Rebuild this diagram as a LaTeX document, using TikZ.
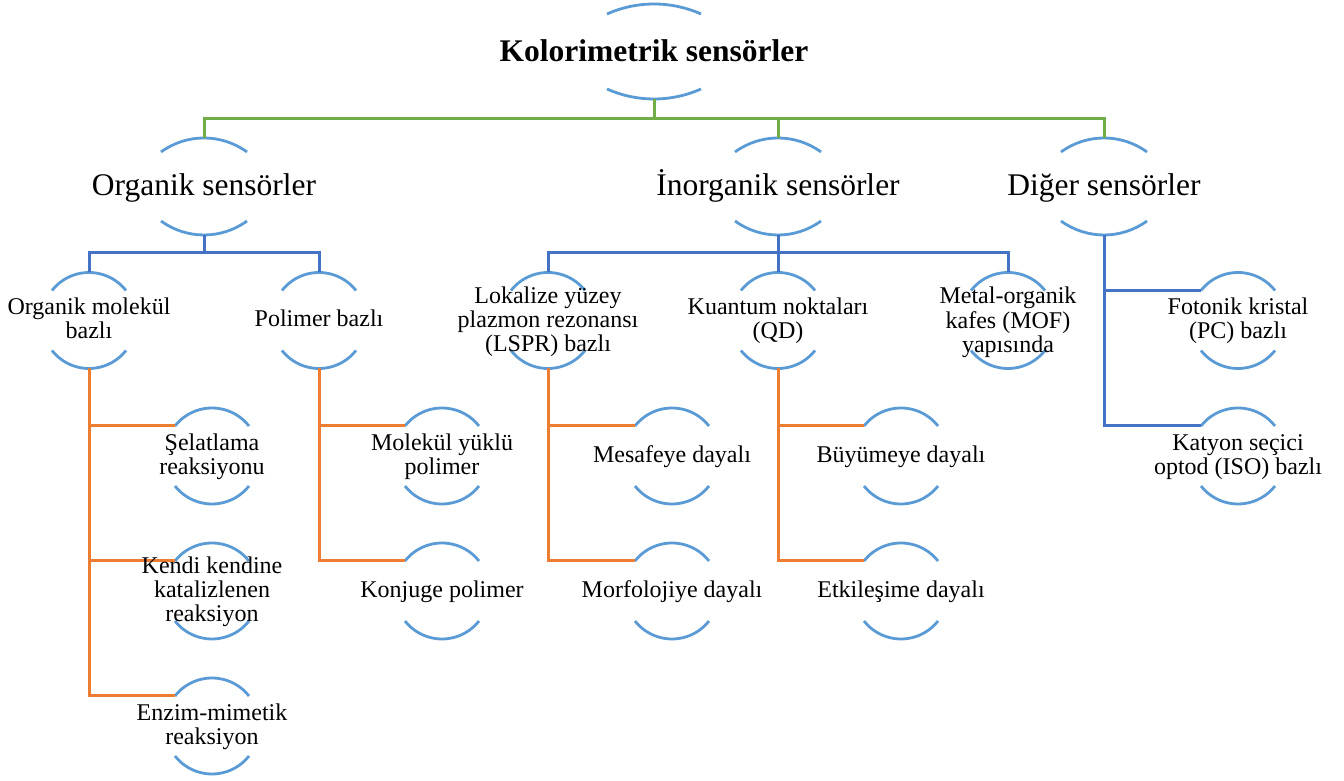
\documentclass[tikz,border=0pt]{standalone}
\usepackage{fontspec}
\setmainfont{Liberation Serif}
\definecolor{arcblue}{HTML}{5B9BD5}
\definecolor{lgreen}{HTML}{70AD47}
\definecolor{lblue}{HTML}{4472C4}
\definecolor{lorange}{HTML}{ED7D31}
\newcommand\ml[1]{\begin{tabular}[t]{@{}c@{}}#1\end{tabular}}
\tikzset{
  frA/.style={inner sep=0pt, outer sep=0pt, minimum width=94pt, minimum height=95pt},
  frB/.style={inner sep=0pt, outer sep=0pt, minimum width=86pt, minimum height=97pt},
  frC/.style={inner sep=0pt, outer sep=0pt, minimum width=74pt, minimum height=96pt},
  arcline/.style={draw=arcblue, line width=2.8pt},
  txtT/.style={font=\fontsize{31.5}{34}\selectfont\bfseries, inner sep=0pt, anchor=base},
  txtL/.style={font=\fontsize{31.5}{34}\selectfont, inner sep=0pt, anchor=base},
  txtS/.style={font=\fontsize{24}{24}\selectfont, inner sep=0pt, anchor=base},
  gline/.style={draw=lgreen, line width=3pt},
  bline/.style={draw=lblue, line width=3pt},
  oline/.style={draw=lorange, line width=3pt},
}
\begin{document}
\begin{tikzpicture}[x=1pt,y=1pt]
\useasboundingbox (0,0) rectangle (1344,781);
% frames
\node[frA] (title) at (654,729.5) {};
\node[frB] (org) at (204,594.5) {};
\node[frB] (inorg) at (778,594.5) {};
\node[frB] (diger) at (1104,594.5) {};
\node[frC] (omb) at (89,460.5) {};
\node[frC] (pol) at (319,460.5) {};
\node[frC] (lspr) at (548,460.5) {};
\node[frC] (qd) at (778,460.5) {};
\node[frC] (mof) at (1008,460.5) {};
\node[frC] (pc) at (1238,460.5) {};
\node[frC] (sel) at (212,325) {};
\node[frC] (kendi) at (212,190) {};
\node[frC] (enzim) at (212,55) {};
\node[frC] (myp) at (442,325) {};
\node[frC] (konj) at (442,190) {};
\node[frC] (mes) at (672,325) {};
\node[frC] (morf) at (672,190) {};
\node[frC] (buy) at (901,325) {};
\node[frC] (etk) at (901,190) {};
\node[frC] (kat) at (1238,325) {};
% arcs
\draw[arcline] ([shift={(-47pt,37.5pt)}]title.center) arc[start angle=114.02,end angle=65.98,radius=115.45pt]
               ([shift={(-47pt,-37.5pt)}]title.center) arc[start angle=245.98,end angle=294.02,radius=115.45pt];
\foreach \n in {org,inorg,diger}{
  \draw[arcline] ([shift={(-43pt,34.5pt)}]\n.center) arc[start angle=126.07,end angle=53.93,radius=73.04pt]
                 ([shift={(-43pt,-34.5pt)}]\n.center) arc[start angle=233.93,end angle=306.07,radius=73.04pt];
}
\foreach \n in {omb,pol,lspr,qd,mof,pc,sel,kendi,enzim,myp,konj,mes,morf,buy,etk,kat}{
  \draw[arcline] ([shift={(-37pt,30pt)}]\n.center) arc[start angle=141.88,end angle=38.12,radius=47.03pt]
                 ([shift={(-37pt,-30pt)}]\n.center) arc[start angle=218.12,end angle=321.88,radius=47.03pt];
}
% connectors
\draw[gline] (title.south) -- ++(0,-20) -| (org.north);
\draw[gline] (title.south) -- ++(0,-20) -| (inorg.north);
\draw[gline] (title.south) -- ++(0,-20) -| (diger.north);
\draw[bline] (org.south) -- ++(0,-18) -| (omb.north);
\draw[bline] (org.south) -- ++(0,-18) -| (pol.north);
\draw[bline] (inorg.south) -- ++(0,-18) -| (lspr.north);
\draw[bline] (inorg.south) -- ++(0,-18) -| (qd.north);
\draw[bline] (inorg.south) -- ++(0,-18) -| (mof.north);
\draw[bline] (diger.south) |- ([yshift=-18pt]pc.north west);
\draw[bline] (diger.south) |- ([yshift=-18pt]kat.north west);
\draw[oline] (omb.south) |- ([yshift=-18pt]sel.north west);
\draw[oline] (omb.south) |- ([yshift=-18pt]kendi.north west);
\draw[oline] (omb.south) |- ([yshift=-18pt]enzim.north west);
\draw[oline] (pol.south) |- ([yshift=-18pt]myp.north west);
\draw[oline] (pol.south) |- ([yshift=-18pt]konj.north west);
\draw[oline] (lspr.south) |- ([yshift=-18pt]mes.north west);
\draw[oline] (lspr.south) |- ([yshift=-18pt]morf.north west);
\draw[oline] (qd.south) |- ([yshift=-18pt]buy.north west);
\draw[oline] (qd.south) |- ([yshift=-18pt]etk.north west);
% texts
\node[txtT] (title-t) at ([yshift=-10.5pt]title.center) {Kolorimetrik sensörler};
\node[txtL] (org-t) at ([yshift=-9.5pt]org.center) {Organik sensörler};
\node[txtL] (inorg-t) at ([yshift=-9.5pt]inorg.center) {İnorganik sensörler};
\node[txtL] (diger-t) at ([yshift=-9.5pt]diger.center) {Diğer sensörler};
\node[txtS] (omb-t) at ([yshift=5.5pt]omb.center) {\ml{Organik molekül\\bazlı}};
\node[txtS] (pol-t) at ([yshift=-6.5pt]pol.center) {\ml{Polimer bazlı}};
\node[txtS] (lspr-t) at ([yshift=16.5pt]lspr.center) {\ml{Lokalize yüzey\\plazmon rezonansı\\(LSPR) bazlı}};
\node[txtS] (qd-t) at ([yshift=5.5pt]qd.center) {\ml{Kuantum noktaları\\(QD)}};
\node[txtS] (mof-t) at ([yshift=16.5pt]mof.center) {\ml{Metal-organik\\kafes (MOF)\\yapısında}};
\node[txtS] (pc-t) at ([yshift=5.5pt]pc.center) {\ml{Fotonik kristal\\(PC) bazlı}};
\node[txtS] (sel-t) at ([yshift=5.5pt]sel.center) {\ml{Şelatlama\\reaksiyonu}};
\node[txtS] (kendi-t) at ([yshift=17.5pt]kendi.center) {\ml{Kendi kendine\\katalizlenen\\reaksiyon}};
\node[txtS] (enzim-t) at ([yshift=5.5pt]enzim.center) {\ml{Enzim-mimetik\\reaksiyon}};
\node[txtS] (myp-t) at ([yshift=5.5pt]myp.center) {\ml{Molekül yüklü\\polimer}};
\node[txtS] (konj-t) at ([yshift=-6.5pt]konj.center) {\ml{Konjuge polimer}};
\node[txtS] (mes-t) at ([yshift=-6.5pt]mes.center) {\ml{Mesafeye dayalı}};
\node[txtS] (morf-t) at ([yshift=-6.5pt]morf.center) {\ml{Morfolojiye dayalı}};
\node[txtS] (buy-t) at ([yshift=-6.5pt]buy.center) {\ml{Büyümeye dayalı}};
\node[txtS] (etk-t) at ([yshift=-6.5pt]etk.center) {\ml{Etkileşime dayalı}};
\node[txtS] (kat-t) at ([yshift=5.5pt]kat.center) {\ml{Katyon seçici\\optod (ISO) bazlı}};
\end{tikzpicture}
\end{document}
